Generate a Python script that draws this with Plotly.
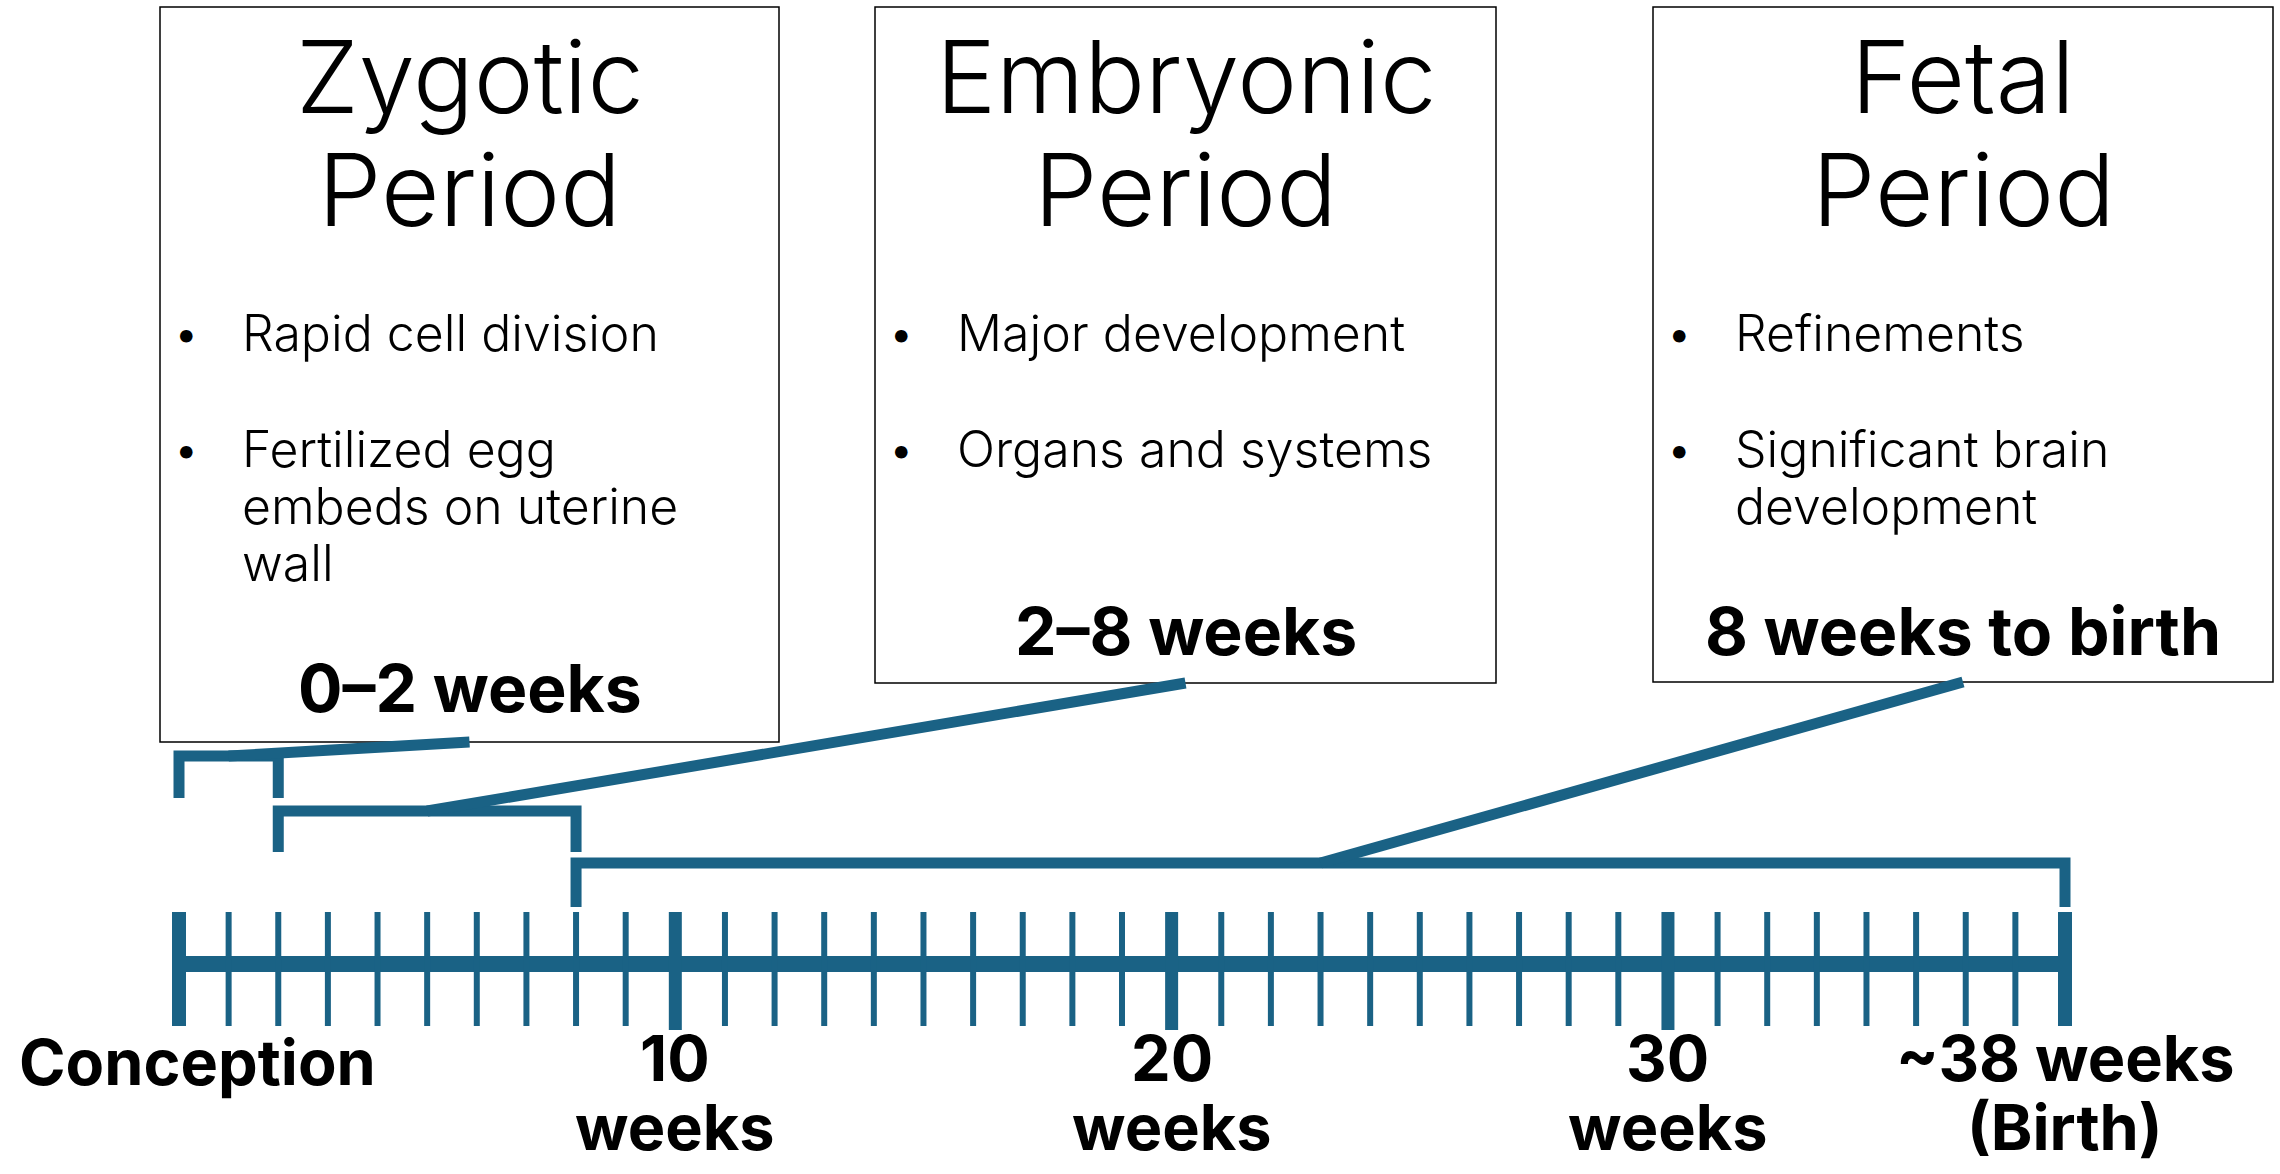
import plotly.graph_objects as go

# ---------------- data ----------------
period_names = ["Zygotic", "Embryonic", "Fetal"]
period_start_week = [0, 2, 8]
period_end_week = [2, 8, 38]
period_span_labels = ["0–2 weeks", "2–8 weeks", "8 weeks to birth"]
period_bullets = [
    [["Rapid cell division"], ["Fertilized egg", "embeds on uterine", "wall"]],
    [["Major development"], ["Organs and systems"]],
    [["Refinements"], ["Significant brain", "development"]],
]
total_weeks = 38
major_tick_weeks = [10, 20, 30]
axis_label_weeks = [0, 10, 20, 30, 38]
axis_label_lines = [["Conception"], ["10", "weeks"], ["20", "weeks"],
                    ["30", "weeks"], ["~38 weeks", "(Birth)"]]

# ---------------- layout / style ----------------
W, H = 2280, 1174
X_START_PX, X_END_PX = 179, 2065
PPW = (X_END_PX - X_START_PX) / total_weeks
XR = [-X_START_PX / PPW, (W - X_START_PX) / PPW]
TEAL = "#1a6285"
FONT = "Inter"

BOX_X = [(160, 779), (875, 1496), (1653, 2273)]
BOX_TOP = 7
BOX_BOTTOM = [742, 683, 682]
TITLE_Y = [76, 189]
BULLET_Y0, BULLET_GAP, LINE_GAP = 333, 116, 57
SPAN_Y = [688, 631, 631]
BRACKET_TOP = [756, 811, 863]
BRACKET_BOTTOM = [798, 852, 907]
AXIS_Y = 964
TICK_TOP, TICK_BOT = 912, 1026
LABEL_MIN_LEFT_PX = 17


def px2week(px):
    return (px - X_START_PX) / PPW


fig = go.Figure()

# main ruler line
fig.add_trace(go.Scatter(x=[0, total_weeks], y=[AXIS_Y, AXIS_Y], mode="lines",
                         line=dict(color=TEAL, width=16), hoverinfo="skip"))

# minor ticks
minor = [w for w in range(1, total_weeks) if w not in major_tick_weeks]
mx, my = [], []
for w in minor:
    mx += [w, w, None]
    my += [TICK_TOP, TICK_BOT, None]
fig.add_trace(go.Scatter(x=mx, y=my, mode="lines", line=dict(color=TEAL, width=6),
                         hoverinfo="skip"))

# major ticks
Mx, My = [], []
for w in major_tick_weeks:
    Mx += [w, w, None]
    My += [TICK_TOP, TICK_BOT + 4, None]
fig.add_trace(go.Scatter(x=Mx, y=My, mode="lines", line=dict(color=TEAL, width=13),
                         hoverinfo="skip"))

# end ticks
Ex, Ey = [], []
for w in [0, total_weeks]:
    Ex += [w, w, None]
    Ey += [TICK_TOP, TICK_BOT, None]
fig.add_trace(go.Scatter(x=Ex, y=Ey, mode="lines", line=dict(color=TEAL, width=14),
                         hoverinfo="skip"))

shapes = []
annotations = []

for i, name in enumerate(period_names):
    s, e = period_start_week[i], period_end_week[i]
    top, bot = BRACKET_TOP[i], BRACKET_BOTTOM[i]
    # bracket
    fig.add_trace(go.Scatter(x=[s, s, e, e], y=[bot, top, top, bot], mode="lines",
                             line=dict(color=TEAL, width=11), hoverinfo="skip"))
    # connector
    bx0, bx1 = BOX_X[i]
    cx = (bx0 + bx1) / 2
    fig.add_trace(go.Scatter(x=[(s + e) / 2, px2week(cx)], y=[top, BOX_BOTTOM[i]],
                             mode="lines", line=dict(color=TEAL, width=11),
                             hoverinfo="skip"))
    # box
    shapes.append(dict(type="rect", xref="paper", yref="y",
                       x0=bx0 / W, x1=bx1 / W, y0=BOX_TOP, y1=BOX_BOTTOM[i],
                       line=dict(color="black", width=1.5), fillcolor="rgba(0,0,0,0)",
                       layer="below"))
    # title
    for j, t in enumerate([name, "Period"]):
        annotations.append(dict(x=cx / W, y=TITLE_Y[j], xref="paper", yref="y",
                                text=t, showarrow=False, xanchor="center", yanchor="middle",
                                font=dict(family=FONT, size=101, color="black", weight=300)))
    # bullets
    y = BULLET_Y0
    for bullet in period_bullets[i]:
        annotations.append(dict(x=(bx0 + 26) / W, y=y, xref="paper", yref="y",
                                text="•", showarrow=False, xanchor="center", yanchor="middle",
                                font=dict(family=FONT, size=40, color="black")))
        for k, line in enumerate(bullet):
            annotations.append(dict(x=(bx0 + 80) / W, y=y + k * LINE_GAP, xref="paper",
                                    yref="y", text=line, showarrow=False,
                                    xanchor="left", yanchor="middle",
                                    font=dict(family=FONT, size=50, color="black",
                                              weight=300)))
        y += BULLET_GAP
    # span label
    annotations.append(dict(x=cx / W, y=SPAN_Y[i], xref="paper", yref="y",
                            text=period_span_labels[i], showarrow=False,
                            xanchor="center", yanchor="middle",
                            font=dict(family=FONT, size=66, color="black", weight=700)))

# axis labels
for w, lines in zip(axis_label_weeks, axis_label_lines):
    ys = [1062] if len(lines) == 1 else [1058, 1127]
    for t, yy in zip(lines, ys):
        ann = dict(x=w, y=yy, xref="x", yref="y", text=t,
                   showarrow=False, xanchor="center", yanchor="middle",
                   font=dict(family=FONT, size=63, color="black", weight=700))
        if w == 0:
            # keep the first label inside the canvas
            ann.update(x=LABEL_MIN_LEFT_PX / W, xref="paper", xanchor="left")
        annotations.append(ann)

fig.update_layout(
    width=W, height=H, margin=dict(l=0, r=0, t=0, b=0),
    paper_bgcolor="white", plot_bgcolor="white", showlegend=False,
    xaxis=dict(range=XR, visible=False, fixedrange=True),
    yaxis=dict(range=[H, 0], visible=False, fixedrange=True),
    shapes=shapes, annotations=annotations,
)

fig.write_html("out.html", config={"displayModeBar": False},
               post_script="document.body.style.margin='0';")
